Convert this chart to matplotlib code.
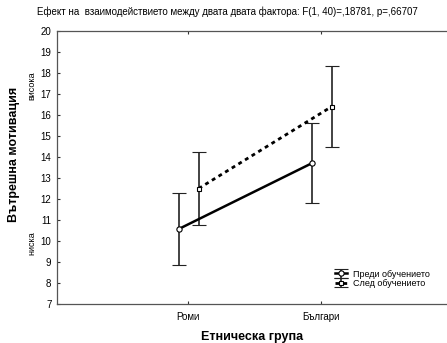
import matplotlib
matplotlib.use("Agg")
import matplotlib.pyplot as plt

plt.rcParams['font.family'] = ['Liberation Sans', 'DejaVu Sans']

# Етническа група и средни стойности с доверителни интервали
groups = ['Роми', 'Българи']
before_mean = [10.57, 13.70]
before_err = [1.72, 1.90]
after_mean = [12.50, 16.40]
after_err = [1.75, 1.93]
series_names = ['Преди обучението', 'След обучението']

title = 'Ефект на  взаимодействието между двата двата фактора: F(1, 40)=,18781, p=,66707'

fig = plt.figure(figsize=(4.47, 3.43), dpi=100)
ax = fig.add_axes([57 / 447, 39 / 343, 390 / 447, 273 / 343])

x = list(range(len(groups)))
x_before = [i - 0.07 for i in x]
x_after = [i + 0.08 for i in x]

eb1 = ax.errorbar(x_before, before_mean, yerr=before_err, color='black', lw=1.8,
                  ecolor='#222222', elinewidth=1.2, capsize=5, capthick=1.2,
                  marker='o', markersize=3.8, markerfacecolor='white',
                  markeredgecolor='black', markeredgewidth=0.8, zorder=3)
eb2 = ax.errorbar(x_after, after_mean, yerr=after_err, color='black', lw=2,
                  linestyle=(0, (1.4, 1.4)),
                  ecolor='#222222', elinewidth=1.2, capsize=5, capthick=1.2,
                  marker='s', markersize=3.5, markerfacecolor='white',
                  markeredgecolor='black', markeredgewidth=0.8, zorder=3)
eb2[-1][0].set_linestyle('-')

ax.set_xlim(-0.985, 1.947)
ax.set_ylim(7, 20)
ax.set_yticks(range(7, 21))
ax.set_xticks(x)
ax.set_xticklabels(groups)

ax.tick_params(axis='both', direction='in', length=2.5, width=0.8,
               labelsize=7, colors='#333333', labelcolor='black')
ax.tick_params(axis='x', top=True, pad=6)
ax.tick_params(axis='y', pad=4)

for side in ['left', 'top', 'bottom']:
    ax.spines[side].set_color('#555555')
    ax.spines[side].set_linewidth(0.9)
ax.spines['right'].set_visible(False)

fig.text(227 / 447, 1 - 12 / 343, title, ha='center', va='center', fontsize=7)

ax.set_xlabel('Етническа група', fontsize=9, fontweight='bold', labelpad=6)
fig.text(14 / 447, 1 - 154 / 343, 'Вътрешна мотивация', rotation=90,
         ha='center', va='center', fontsize=9, fontweight='bold')

yt = ax.get_yaxis_transform()
ax.text(-0.064, 17.4, 'висока', transform=yt, rotation=90, ha='center',
        va='center', fontsize=6.5)
ax.text(-0.064, 9.9, 'ниска', transform=yt, rotation=90, ha='center',
        va='center', fontsize=6.5)

leg = ax.legend([eb1, eb2], series_names, loc='lower left',
                bbox_to_anchor=(335 / 447, 1 - 288 / 343),
                bbox_transform=fig.transFigure, frameon=False, fontsize=6.5,
                handlelength=1.3, handletextpad=0.7, labelspacing=0.05,
                borderpad=0, borderaxespad=0)

fig.savefig('out.png', dpi=100)
